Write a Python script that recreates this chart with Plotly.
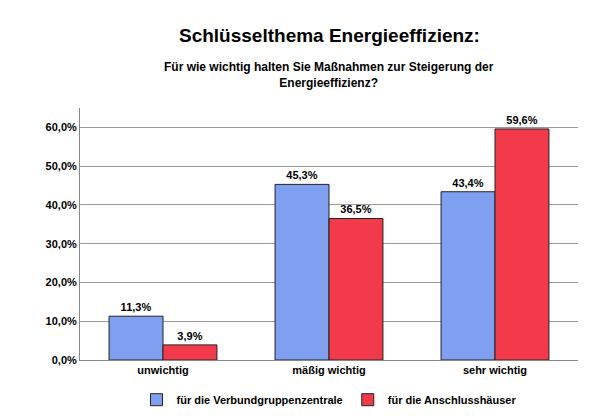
import plotly.graph_objects as go

categories = ["unwichtig", "mäßig wichtig", "sehr wichtig"]
zentrale = [11.3, 45.3, 43.4]
haeuser = [3.9, 36.5, 59.6]

FONT = "Liberation Sans, Arial, sans-serif"

fig = go.Figure()
fig.add_trace(go.Bar(
    x=categories, y=zentrale, name="<b>für die Verbundgruppenzentrale</b>",
    marker=dict(color="#7f9ff0", line=dict(color="#222", width=1)),
    text=[f"<b>{v:.1f}%</b>".replace(".", ",") for v in zentrale],
    textposition="outside", textfont=dict(size=11, color="black"),
    cliponaxis=False,
))
fig.add_trace(go.Bar(
    x=categories, y=haeuser, name="<b>für die Anschlusshäuser</b>",
    marker=dict(color="#f23a4a", line=dict(color="#222", width=1)),
    text=[f"<b>{v:.1f}%</b>".replace(".", ",") for v in haeuser],
    textposition="outside", textfont=dict(size=11, color="black"),
    cliponaxis=False,
))

fig.add_annotation(text="<b>Schlüsselthema Energieeffizienz:</b>", xref="paper", yref="paper",
                   x=0.5, y=1.0, yshift=85, showarrow=False, font=dict(size=19))
fig.add_annotation(text="<b>Für wie wichtig halten Sie Maßnahmen zur Steigerung der<br>Energieeffizienz?</b>",
                   xref="paper", yref="paper", x=0.5, y=1.0, yshift=50, showarrow=False,
                   font=dict(size=12))

fig.update_layout(
    width=592, height=418,
    paper_bgcolor="white", plot_bgcolor="white",
    separators=",.",
    font=dict(family=FONT, color="black"),
    bargap=0.35, bargroupgap=0.0,
    margin=dict(l=72, r=22, t=100, b=50),
    xaxis=dict(showline=True, linecolor="#888", tickfont=dict(size=11),
               ticktext=[f"<b>{c}</b>" for c in categories], tickvals=categories),
    yaxis=dict(range=[0, 65], dtick=10, tickformat=".1f", ticksuffix="%",
               showgrid=True, gridcolor="#999", showline=True, linecolor="#888",
               tickfont=dict(size=11, weight="bold")),
    legend=dict(orientation="h", x=0.5, xanchor="center", y=-0.1, yanchor="top",
                font=dict(size=11)),
)

fig.write_html("out.html")
